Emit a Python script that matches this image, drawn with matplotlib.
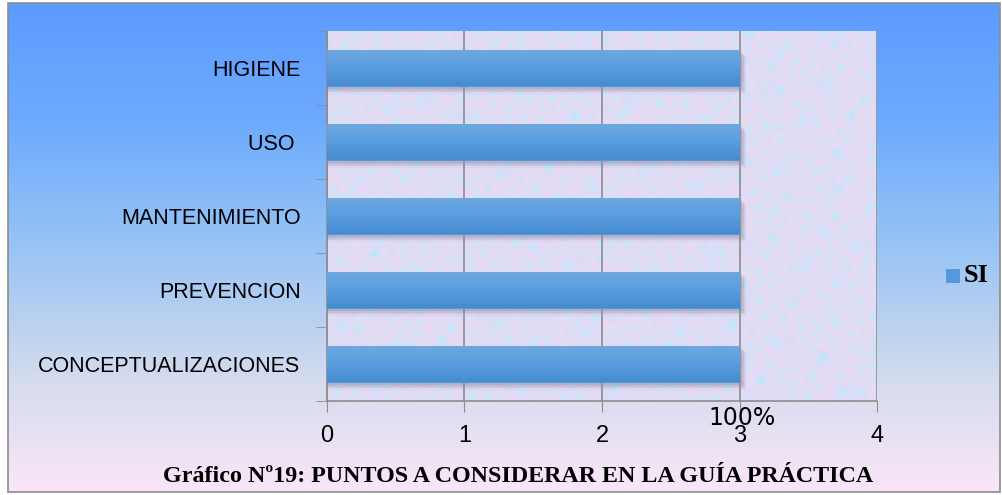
import numpy as np
import matplotlib
matplotlib.use("Agg")
import matplotlib.pyplot as plt
from matplotlib.colors import LinearSegmentedColormap
from matplotlib.patches import Rectangle

# data
categorias = ["CONCEPTUALIZACIONES", "PREVENCION", "MANTENIMIENTO", "USO ", "HIGIENE"]
valores_si = [3, 3, 3, 3, 3]
etiqueta_valor = "100%"
serie = "SI"
titulo = "Gráfico Nº19: PUNTOS A CONSIDERAR EN LA GUÍA PRÁCTICA"
x_ticks = [0, 1, 2, 3, 4]

sans = ["Liberation Sans", "DejaVu Sans"]
serif = ["Liberation Serif", "DejaVu Serif"]

W, H = 1003, 495
fig = plt.figure(figsize=(W / 100, H / 100), dpi=100)
fig.patch.set_facecolor("white")

# background gradient of the chart area
bg = fig.add_axes([8 / W, 3 / H, 992 / W, 489 / H])
bg_cmap = LinearSegmentedColormap.from_list(
    "bg", [(0.0, "#5c9bff"), (0.25, "#6eabfd"), (0.5, "#98c4f4"),
           (0.78, "#d6dcee"), (1.0, "#fae6f8")])
grad = np.linspace(0, 1, 256).reshape(-1, 1)
bg.imshow(grad, aspect="auto", cmap=bg_cmap, extent=[0, 1, 1, 0])
bg.set_xlim(0, 1)
bg.set_ylim(1, 0)
bg.axis("off")
bg.add_patch(Rectangle((0, 0), 1, 1, transform=bg.transAxes, fill=False,
                       edgecolor="#8c8c8c", lw=1.2, clip_on=False))

ax = fig.add_axes([327 / W, 1 - 401 / H, 550 / W, 370 / H])
y = np.arange(len(categorias))

# textured plot area (light blue / pink marble), built from overlapping waves
gx, gy = np.meshgrid(np.linspace(0, 55, 550), np.linspace(0, 37, 370))
tex = np.zeros_like(gx)
for fx, fy, ph in [(1.31, 0.47, 0.3), (0.53, 1.77, 1.1), (2.71, 2.13, 2.0),
                   (3.37, -1.91, 0.7), (-1.13, 2.93, 1.9), (4.1, 3.3, 0.2)]:
    tex += np.sin(gx * fx + gy * fy + ph + 0.8 * np.sin(gy * fx * 0.37 + gx * 0.29))
tex_cmap = LinearSegmentedColormap.from_list(
    "tex", ["#bfe4fa", "#cfe3f8", "#dcdcf5", "#e8daf3", "#d6e2f7", "#c6e8fa"])
ax.imshow(tex, aspect="auto", cmap=tex_cmap, extent=[0, 4, -0.5, 4.5],
          zorder=0, interpolation="bilinear")

# bars
bar_cmap = LinearSegmentedColormap.from_list("bar", ["#6ea8de", "#5a9ee0", "#448bcf"])
bars = ax.barh(y, valores_si, height=0.5, color="#5599dd", zorder=3)
for b in bars:
    x0, y0, w, h = b.get_x(), b.get_y(), b.get_width(), b.get_height()
    # soft shadow below the bar
    for k, a in enumerate([0.10, 0.08, 0.06, 0.04]):
        ax.add_patch(Rectangle((x0, y0 - 0.03 - k * 0.025), w + 0.02 + k * 0.01, h,
                               facecolor="#303050", edgecolor="none", alpha=a, zorder=2))
    im = ax.imshow(np.linspace(0, 1, 64).reshape(-1, 1)[::-1], aspect="auto", cmap=bar_cmap,
                   extent=[x0, x0 + w, y0, y0 + h], zorder=3.5, origin="lower")
    im.set_clip_path(b)

ax.set_xlim(0, 4)
ax.set_ylim(-0.5, len(categorias) - 0.5)
ax.set_xticks(x_ticks)
ax.set_xticklabels([str(t) for t in x_ticks], fontsize=17, family=sans)
ax.set_yticks(y)
ax.set_yticklabels(categorias, fontsize=15.5, family=sans)
ax.tick_params(axis="y", length=0, pad=19)
ax.set_yticks(np.arange(-0.5, len(categorias), 1), minor=True)
ax.tick_params(axis="y", which="minor", length=8, color="#8c8c8c", direction="out")
ax.tick_params(axis="x", length=8, color="#8c8c8c", pad=9, direction="out")
ax.grid(axis="x", color="#8c8c8c", lw=1.2, zorder=1)
ax.set_axisbelow(False)
for s in ["top", "right"]:
    ax.spines[s].set_visible(False)
for s in ["left", "bottom"]:
    ax.spines[s].set_color("#8c8c8c")
    ax.spines[s].set_linewidth(1.2)

# value label under the axis (overlaps the "3" tick, as in the original)
ax.annotate(etiqueta_valor, xy=(valores_si[0], -0.5), xytext=(2, -12),
            textcoords="offset points", ha="center", va="center",
            fontsize=17, family=["DejaVu Sans"], zorder=6, annotation_clip=False)

# legend
fig.patches.append(Rectangle((946 / W, 1 - 283 / H), 14 / W, 14 / H,
                             transform=fig.transFigure, facecolor="#5599dd",
                             edgecolor="none"))
fig.text(964 / W, 1 - 276 / H, serie, fontsize=19, fontweight="bold",
         family=serif, va="center", ha="left")

fig.text(518 / W, 1 - 476 / H, titulo, fontsize=17.3, fontweight="bold",
         family=serif, ha="center", va="center")

fig.savefig("out.png", dpi=100)
